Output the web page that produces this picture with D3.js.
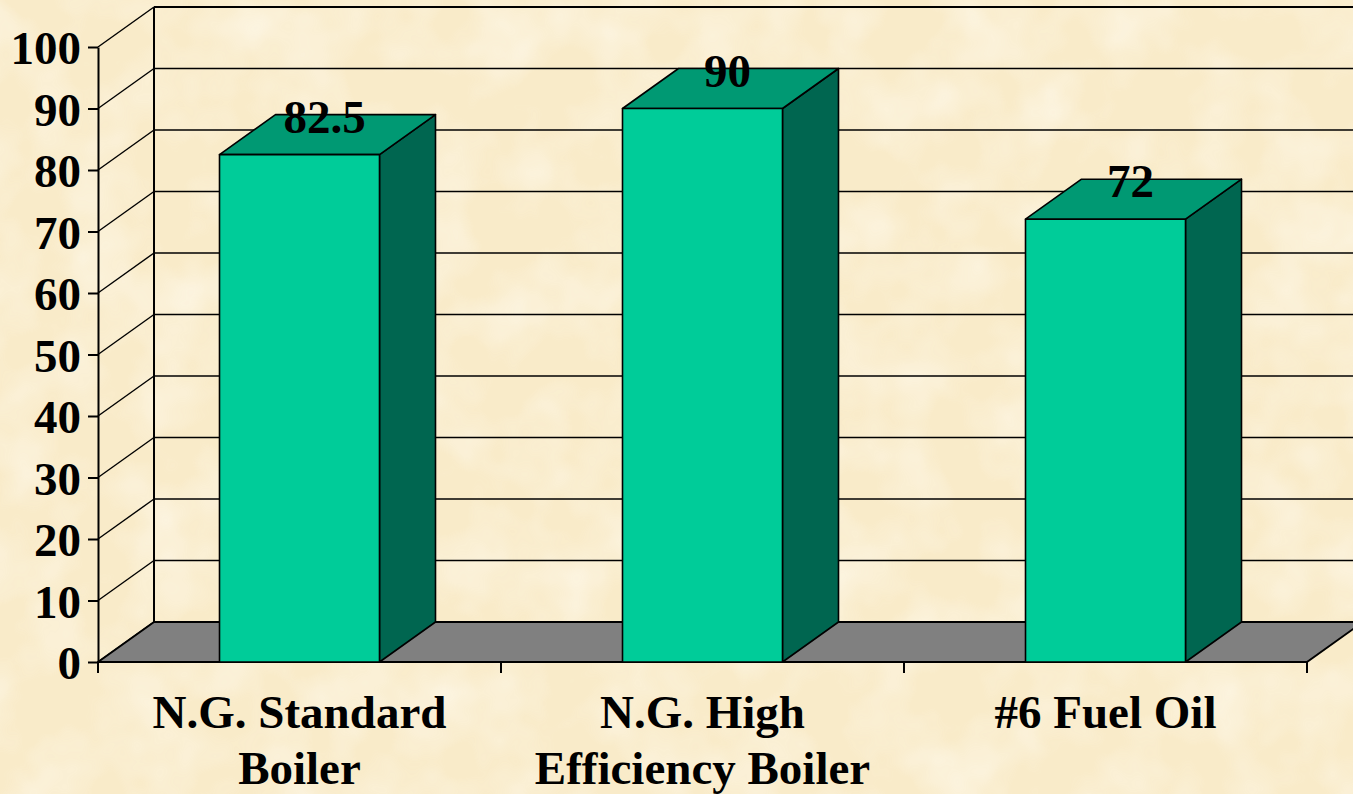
<!DOCTYPE html>
<html>
<head>
<meta charset="utf-8">
<script src="https://cdn.jsdelivr.net/npm/d3@7"></script>
<style>
  html, body { margin: 0; padding: 0; background: #fbf0d3; }
  svg { display: block; }
  text { font-family: "Liberation Serif", "Times New Roman", serif; font-weight: bold; fill: #000; }
</style>
</head>
<body>
<script>
// Boiler efficiency (%) by heating option
const categories = ["N.G. Standard Boiler", "N.G. High Efficiency Boiler", "#6 Fuel Oil"];
const categoryLines = [["N.G. Standard", "Boiler"], ["N.G. High", "Efficiency Boiler"], ["#6 Fuel Oil"]];
const efficiency = [82.5, 90, 72];
const yTicks = [0, 10, 20, 30, 40, 50, 60, 70, 80, 90, 100];

const W = 1353, H = 794;
const depth = { dx: 56, dy: -40 };   // oblique offset from front plane to back wall
const fontSize = 47;

const svg = d3.select("body").append("svg").attr("width", W).attr("height", H);

// parchment-like background
const defs = svg.append("defs");
const f = defs.append("filter").attr("id", "paper").attr("x", 0).attr("y", 0).attr("width", 1).attr("height", 1);
f.append("feTurbulence").attr("type", "fractalNoise").attr("baseFrequency", 0.015).attr("numOctaves", 3).attr("seed", 7).attr("result", "n");
f.append("feColorMatrix").attr("in", "n").attr("type", "matrix")
  .attr("values", "0 0 0 0 1  0 0 0 0 0.98  0 0 0 0 0.92  0 0 0 -1.2 0.75");
svg.append("rect").attr("width", W).attr("height", H).attr("fill", "#f9ebc9");
svg.append("rect").attr("width", W).attr("height", H).attr("filter", "url(#paper)").attr("opacity", 0.8);

const y = d3.scaleLinear().domain([0, 100]).range([662, 47]);
const x = d3.scaleBand().domain(categories).range([98, 1307]).padding(0);
const barFrac = 0.397;

const x0 = x.range()[0], x1 = x.range()[1];

// back wall gridlines
const grid = svg.append("g").attr("stroke", "#000").attr("stroke-width", 1.4).attr("fill", "none");
grid.selectAll("line.h").data(yTicks).join("line")
  .attr("class", "h")
  .attr("x1", x0 + depth.dx).attr("x2", W + 20)
  .attr("y1", d => y(d) + depth.dy).attr("y2", d => y(d) + depth.dy)
  .attr("stroke-width", d => (d === 100 ? 2.2 : 1.4));
// side wall gridlines
grid.selectAll("line.d").data(yTicks).join("line")
  .attr("class", "d")
  .attr("x1", x0).attr("y1", d => y(d))
  .attr("x2", x0 + depth.dx).attr("y2", d => y(d) + depth.dy);
// back wall left edge
grid.append("line")
  .attr("x1", x0 + depth.dx).attr("x2", x0 + depth.dx)
  .attr("y1", y(100) + depth.dy).attr("y2", y(0) + depth.dy)
  .attr("stroke-width", 2);

// floor
svg.append("polygon")
  .attr("points", [[x0, y(0)], [x1, y(0)], [x1 + depth.dx, y(0) + depth.dy], [x0 + depth.dx, y(0) + depth.dy]].map(p => p.join(",")).join(" "))
  .attr("fill", "#808080").attr("stroke", "#000").attr("stroke-width", 2).attr("stroke-linejoin", "round");

// value axis
const yAxis = svg.append("g").attr("transform", `translate(${x0},0)`)
  .call(d3.axisLeft(y).tickValues(yTicks).tickSize(10).tickSizeOuter(0).tickPadding(7));
yAxis.select(".domain").attr("stroke", "#000").attr("stroke-width", 2);
yAxis.selectAll(".tick line").attr("stroke", "#000").attr("stroke-width", 2);
yAxis.selectAll(".tick text").attr("font-size", fontSize).attr("dy", "0.36em")
  .style("font-family", '"Liberation Serif", "Times New Roman", serif').style("font-weight", "bold");

// category axis
svg.append("line").attr("x1", x0).attr("x2", x1).attr("y1", y(0)).attr("y2", y(0))
  .attr("stroke", "#000").attr("stroke-width", 2);
const bounds = categories.map(c => x(c)).concat([x1]);
svg.append("g").selectAll("line").data(bounds).join("line")
  .attr("x1", d => d).attr("x2", d => d).attr("y1", y(0)).attr("y2", y(0) + 11)
  .attr("stroke", "#000").attr("stroke-width", 2);

// 3D columns
const bars = svg.append("g").selectAll("g").data(categories.map((c, i) => ({ c, v: efficiency[i] }))).join("g");
const geom = d => {
  const cx = x(d.c) + x.bandwidth() / 2;
  const w = x.bandwidth() * barFrac;
  return { l: cx - w / 2, r: cx + w / 2, t: y(d.v), b: y(0), cx };
};
const pts = a => a.map(p => p.join(",")).join(" ");
bars.append("polygon")
  .attr("points", d => { const g = geom(d); return pts([[g.r, g.t], [g.r + depth.dx, g.t + depth.dy], [g.r + depth.dx, g.b + depth.dy], [g.r, g.b]]); })
  .attr("fill", "#006650");
bars.append("polygon")
  .attr("points", d => { const g = geom(d); return pts([[g.l, g.t], [g.l + depth.dx, g.t + depth.dy], [g.r + depth.dx, g.t + depth.dy], [g.r, g.t]]); })
  .attr("fill", "#009973");
bars.append("rect")
  .attr("x", d => geom(d).l).attr("y", d => geom(d).t)
  .attr("width", d => geom(d).r - geom(d).l).attr("height", d => geom(d).b - geom(d).t)
  .attr("fill", "#00cc99");
bars.selectAll("polygon, rect").attr("stroke", "#000").attr("stroke-width", 1.6).attr("stroke-linejoin", "round");

// value labels
bars.append("text")
  .attr("x", d => geom(d).cx + depth.dx / 2 - 3)
  .attr("y", d => geom(d).t + depth.dy / 2 - 2)
  .attr("text-anchor", "middle").attr("font-size", fontSize)
  .text(d => d.v);

// category labels
const cl = svg.append("g").selectAll("text").data(categories).join("text")
  .attr("text-anchor", "middle").attr("font-size", fontSize)
  .attr("x", d => x(d) + x.bandwidth() / 2).attr("y", 728);
cl.selectAll("tspan").data((d, i) => categoryLines[i]).join("tspan")
  .attr("x", function () { return this.parentNode.getAttribute("x"); })
  .attr("dy", (d, i) => (i === 0 ? 0 : 56))
  .text(d => d);
</script>
</body>
</html>
